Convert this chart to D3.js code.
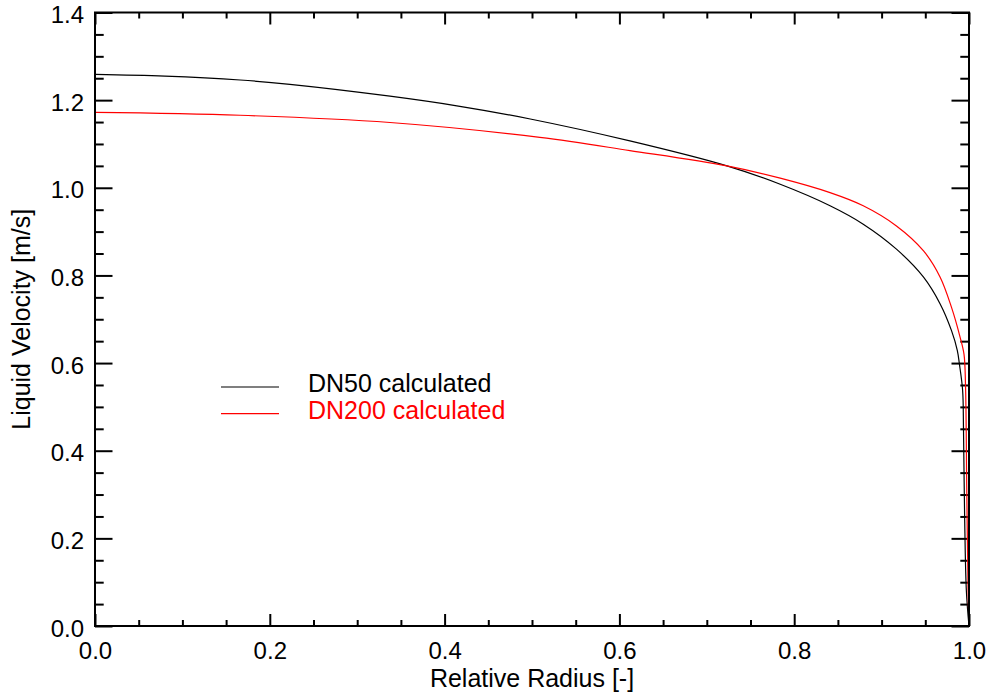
<!DOCTYPE html>
<html>
<head>
<meta charset="utf-8">
<script src="https://cdn.jsdelivr.net/npm/d3@7"></script>
<style>
  body { margin: 0; background: #fff; }
  svg { display: block; }
</style>
</head>
<body>
<div id="chart"></div>
<script>
// --- data
const dn50Radius = [0, 0.08, 0.166, 0.223, 0.3375, 0.414, 0.498, 0.612, 0.723, 0.784, 0.841, 0.879, 0.917, 0.948, 0.967, 0.980, 0.9866, 0.989, 0.9927, 0.9937, 0.995, 0.997, 1.0];
const dn50Velocity = [1.259, 1.255, 1.246, 1.236, 1.209, 1.187, 1.157, 1.107, 1.050, 1.008, 0.959, 0.917, 0.860, 0.796, 0.735, 0.674, 0.629, 0.598, 0.538, 0.45, 0.25, 0.08, 0];

const dn200Radius = [0, 0.166, 0.3375, 0.509, 0.612, 0.723, 0.784, 0.841, 0.879, 0.917, 0.948, 0.967, 0.980, 0.9897, 0.9943, 0.996, 0.9975, 0.999, 1.0];
const dn200Velocity = [1.172, 1.1655, 1.149, 1.115, 1.085, 1.050, 1.022, 0.989, 0.959, 0.913, 0.856, 0.796, 0.727, 0.66, 0.62, 0.55, 0.30, 0.08, 0];

const seriesNames = ['DN50 calculated', 'DN200 calculated'];
const seriesColors = ['#000000', '#ff0000'];

const xTicks = [0, 0.2, 0.4, 0.6, 0.8, 1.0];
const yTicks = [0, 0.2, 0.4, 0.6, 0.8, 1.0, 1.2, 1.4];

const xTitle = 'Relative Radius [-]';
const yTitle = 'Liquid Velocity [m/s]';

// --- dimensions
const width = 989;
const height = 693;
const margin = { top: 12.5, right: 20, bottom: 67, left: 95 };
const plotW = width - margin.left - margin.right;
const plotH = height - margin.top - margin.bottom;
const font = '"Liberation Sans", Arial, Helvetica, sans-serif';

// --- scales
const x = d3.scaleLinear().domain([0, 1]).range([0, plotW]);
const y = d3.scaleLinear().domain([0, 1.4]).range([plotH, 0]);

const xMinor = d3.range(0, 1.0001, 0.05).filter(d => Math.abs(d * 5 - Math.round(d * 5)) > 1e-6);
const yMinor = d3.range(0, 1.4001, 0.05).filter(d => Math.abs(d * 5 - Math.round(d * 5)) > 1e-6);

const svg = d3.select('#chart')
  .append('svg')
  .attr('width', width)
  .attr('height', height);

const g = svg.append('g')
  .attr('transform', `translate(${margin.left},${margin.top})`);

// --- axes (ticks pointing inward on all four sides)
const xMajorLen = 12, xMinorLen = 6;
const yMajorLen = 17.5, yMinorLen = 8.7;

function styleAxis(sel) {
  sel.select('.domain').remove();
  sel.selectAll('line').attr('stroke', '#000').attr('stroke-width', 2);
  sel.selectAll('text')
    .attr('font-family', font)
    .attr('font-size', 24)
    .attr('fill', '#000');
}

// bottom
g.append('g')
  .attr('transform', `translate(0,${plotH})`)
  .call(d3.axisBottom(x).tickValues(xTicks).tickSizeInner(-xMajorLen).tickSizeOuter(0).tickPadding(16).tickFormat(d3.format('.1f')))
  .call(styleAxis);
g.append('g')
  .attr('transform', `translate(0,${plotH})`)
  .call(d3.axisBottom(x).tickValues(xMinor).tickSizeInner(-xMinorLen).tickSizeOuter(0).tickFormat(''))
  .call(styleAxis);

// top
g.append('g')
  .call(d3.axisTop(x).tickValues(xTicks).tickSizeInner(-xMajorLen).tickSizeOuter(0).tickFormat(''))
  .call(styleAxis);
g.append('g')
  .call(d3.axisTop(x).tickValues(xMinor).tickSizeInner(-xMinorLen).tickSizeOuter(0).tickFormat(''))
  .call(styleAxis);

// left
g.append('g')
  .call(d3.axisLeft(y).tickValues(yTicks).tickSizeInner(-yMajorLen).tickSizeOuter(0).tickPadding(11).tickFormat(d3.format('.1f')))
  .call(styleAxis)
  .call(sel => sel.selectAll('text').attr('dy', '0.42em'));
g.append('g')
  .call(d3.axisLeft(y).tickValues(yMinor).tickSizeInner(-yMinorLen).tickSizeOuter(0).tickFormat(''))
  .call(styleAxis);

// right
g.append('g')
  .attr('transform', `translate(${plotW},0)`)
  .call(d3.axisRight(y).tickValues(yTicks).tickSizeInner(-yMajorLen).tickSizeOuter(0).tickFormat(''))
  .call(styleAxis);
g.append('g')
  .attr('transform', `translate(${plotW},0)`)
  .call(d3.axisRight(y).tickValues(yMinor).tickSizeInner(-yMinorLen).tickSizeOuter(0).tickFormat(''))
  .call(styleAxis);

// --- curves
const series = [
  { name: seriesNames[0], color: seriesColors[0], r: dn50Radius, v: dn50Velocity },
  { name: seriesNames[1], color: seriesColors[1], r: dn200Radius, v: dn200Velocity }
];

const line = d3.line()
  .x(d => x(d[0]))
  .y(d => y(d[1]))
  .curve(d3.curveCatmullRom.alpha(0.5));

g.selectAll('.curve')
  .data(series)
  .join('path')
    .attr('class', 'curve')
    .attr('fill', 'none')
    .attr('stroke', d => d.color)
    .attr('stroke-width', 1.2)
    .attr('d', d => line(d.r.map((r, i) => [r, d.v[i]])));

// --- frame
g.append('rect')
  .attr('width', plotW)
  .attr('height', plotH)
  .attr('fill', 'none')
  .attr('stroke', '#000')
  .attr('stroke-width', 2);

// --- legend
const legend = svg.append('g')
  .attr('transform', 'translate(221,387)');

const legendItem = legend.selectAll('.legend-item')
  .data(series)
  .join('g')
    .attr('class', 'legend-item')
    .attr('transform', (d, i) => `translate(0,${i * 26.6})`);

legendItem.append('line')
  .attr('x1', 0)
  .attr('x2', 58)
  .attr('stroke', d => d.color)
  .attr('stroke-width', 1.2);

legendItem.append('text')
  .attr('x', 87)
  .attr('y', 5)
  .attr('font-family', font)
  .attr('font-size', 25)
  .attr('fill', d => d.color)
  .text(d => d.name);

// --- axis titles
svg.append('text')
  .attr('x', margin.left + plotW / 2)
  .attr('y', 687)
  .attr('text-anchor', 'middle')
  .attr('font-family', font)
  .attr('font-size', 25)
  .text(xTitle);

svg.append('text')
  .attr('transform', `translate(30,${margin.top + plotH / 2}) rotate(-90)`)
  .attr('text-anchor', 'middle')
  .attr('font-family', font)
  .attr('font-size', 25)
  .text(yTitle);
</script>
</body>
</html>
